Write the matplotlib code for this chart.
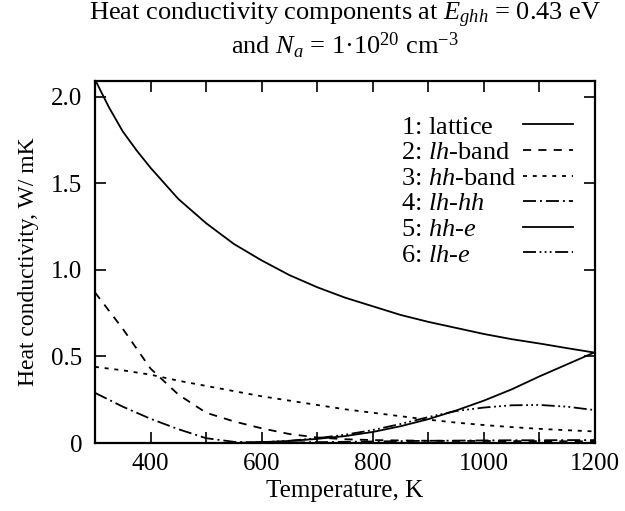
import matplotlib
matplotlib.use("Agg")
import matplotlib.pyplot as plt
from matplotlib.ticker import MultipleLocator, FuncFormatter

plt.rcParams['font.family'] = ['Liberation Serif', 'DejaVu Serif']
plt.rcParams['mathtext.fontset'] = 'custom'
plt.rcParams['mathtext.rm'] = 'Liberation Serif'
plt.rcParams['mathtext.it'] = 'Liberation Serif:italic'
plt.rcParams['font.size'] = 18

# temperature grid, K
temperature = [300, 350, 400, 450, 500, 550, 600, 650, 700, 750,
               800, 850, 900, 950, 1000, 1050, 1100, 1150, 1200]
# the lattice term bends sharply at low T, so it gets a finer grid there
temperature_lat = [300, 325, 350, 375, 400, 450, 500, 550, 600, 650, 700, 750,
                   800, 850, 900, 950, 1000, 1050, 1100, 1150, 1200]

# heat conductivity components, W/mK
lattice = [2.10, 1.94, 1.80, 1.69, 1.59, 1.41, 1.27, 1.15, 1.055, 0.97, 0.90, 0.84,
           0.79, 0.74, 0.70, 0.665, 0.63, 0.60, 0.575, 0.548, 0.522]
lh_band = [0.87, 0.66, 0.43, 0.28, 0.175, 0.125, 0.085, 0.052, 0.032, 0.022,
           0.017, 0.015, 0.013, 0.012, 0.012, 0.011, 0.011, 0.010, 0.010]
hh_band = [0.44, 0.42, 0.395, 0.36, 0.33, 0.30, 0.27, 0.245, 0.22, 0.195,
           0.175, 0.155, 0.135, 0.118, 0.104, 0.092, 0.082, 0.074, 0.067]
lh_hh = [0.29, 0.21, 0.14, 0.08, 0.028, 0.007, 0.003, 0.003, 0.005, 0.007,
         0.009, 0.011, 0.013, 0.014, 0.015, 0.016, 0.016, 0.017, 0.017]
hh_e = [0.0, 0.0, 0.0, 0.0, 0.0, 0.0, 0.005, 0.012, 0.024, 0.04,
        0.064, 0.097, 0.138, 0.188, 0.245, 0.31, 0.385, 0.455, 0.525]
lh_e = [0.0, 0.0, 0.0, 0.0, 0.0, 0.0, 0.005, 0.013, 0.028, 0.048,
        0.075, 0.11, 0.15, 0.185, 0.205, 0.218, 0.22, 0.21, 0.19]

labels = ['$\\mathit{1}$: lattice',
          '$\\mathit{2}$: $\\mathit{lh}$-band',
          '$\\mathit{3}$: $\\mathit{hh}$-band',
          '$\\mathit{4}$: $\\mathit{lh}$-$\\mathit{hh}$',
          '$\\mathit{5}$: $\\mathit{hh}$-$\\mathit{e}$',
          '$\\mathit{6}$: $\\mathit{lh}$-$\\mathit{e}$']

fig = plt.figure(figsize=(6.25, 5.11), dpi=100)
ax = fig.add_axes([0.152, 0.133, 0.800, 0.708])

lw = 1.3
lines = [
    ax.plot(temperature_lat, lattice, color='black', lw=lw)[0],
    ax.plot(temperature, lh_band, color='black', lw=lw, dashes=(4.5, 4))[0],
    ax.plot(temperature, hh_band, color='black', lw=lw, dashes=(2.2, 3.2))[0],
    ax.plot(temperature, lh_hh, color='black', lw=lw, dashes=(7.2, 2.2, 1.1, 2.2))[0],
    ax.plot(temperature, hh_e, color='black', lw=lw)[0],
    ax.plot(temperature, lh_e, color='black', lw=lw,
            dashes=(7.2, 2, 1, 1.8, 1, 1.8, 1, 2))[0],
]

ax.set_xlim(300, 1200)
ax.set_ylim(0, 2.09)
ax.xaxis.set_major_locator(MultipleLocator(200))
ax.xaxis.set_minor_locator(MultipleLocator(100))
ax.yaxis.set_major_locator(MultipleLocator(0.5))
ax.yaxis.set_major_formatter(FuncFormatter(lambda v, p: '0' if v == 0 else f'{v:.1f}'))
ax.tick_params(which='both', direction='in', top=True, right=True, width=1.2)
ax.tick_params(which='major', length=8, labelsize=18)
ax.tick_params(which='minor', length=8)
ax.tick_params(axis='x', which='major', pad=7)
ax.tick_params(axis='y', which='major', pad=9)
for s in ax.spines.values():
    s.set_linewidth(1.6)

ax.set_xlabel('Temperature, K', fontsize=18, labelpad=4)
ax.set_ylabel('Heat conductivity, W/ mK', fontsize=17, labelpad=9)

# two-line heading, each line placed on its own baseline
fig.text(0.552, 0.961, 'Heat conductivity components at $E_{ghh}$ = 0.43 eV',
         ha='center', va='baseline', fontsize=19)
fig.text(0.552, 0.893, 'and $N_a$ = 1·10$^{20}$ cm$^{-3}$',
         ha='center', va='baseline', fontsize=19)

# key: line samples in a right-hand column, labels left-aligned in front of them
leg_kw = dict(frameon=False, fontsize=19, labelspacing=0.08, borderpad=0,
              borderaxespad=0)
key = ax.legend(lines, labels, loc='upper right', bbox_to_anchor=(0.956, 0.906),
                markerfirst=False, handlelength=1.9, handletextpad=0.3, **leg_kw)
for t in key.get_texts():
    t.set_visible(False)
ax.add_artist(key)
ax.legend(lines, labels, loc='upper left', bbox_to_anchor=(0.612, 0.906),
          handlelength=0, handletextpad=0, **leg_kw)
for h in ax.get_legend().legend_handles:
    h.set_visible(False)

fig.savefig('out.png', dpi=100)
